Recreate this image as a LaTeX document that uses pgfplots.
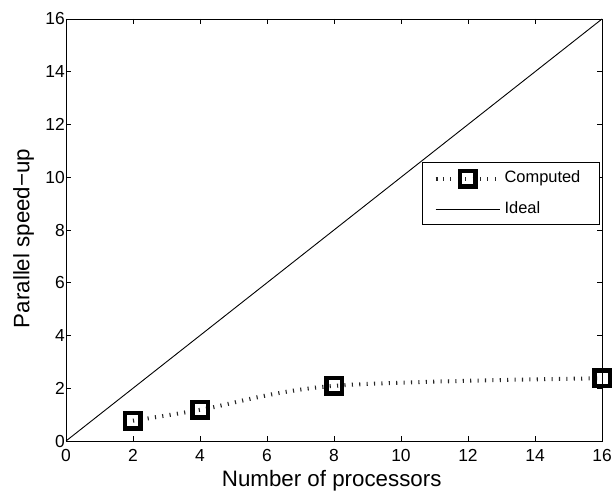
\documentclass[border=0pt]{standalone}
\usepackage{fontspec}
\setmainfont{Liberation Sans}
\usepackage{pgfplots}
\pgfplotsset{compat=1.18}
\begin{document}
\begin{tikzpicture}
\useasboundingbox (-66bp,-51bp) rectangle (550bp,441bp);
\begin{axis}[
  at={(0,0)}, anchor=south west,
  scale only axis, width=536bp, height=422bp,
  xmin=0, xmax=16, ymin=0, ymax=16,
  xtick={0,2,...,16}, ytick={0,2,...,16},
  tick align=inside, major tick length=5bp,
  axis line style={line width=0.9bp},
  every tick/.style={black, line width=0.9bp},
  tick label style={font=\fontsize{17.5}{17.5}\selectfont},
  /pgf/number format/assume math mode=true,
  xticklabel style={yshift=-5bp},
  yticklabel style={xshift=2.4bp},
  label style={font=\fontsize{22.4}{22.4}\selectfont},
  xlabel={Number of processors},
  ylabel={Parallel speed−up},
  xlabel style={at={(axis description cs:0.4957,-0.109)}, anchor=base},
  ylabel style={at={(axis description cs:-0.0685,0.48)}, anchor=base},
  legend cell align=left,
  legend image code/.code={%
    \draw[mark repeat=2, mark phase=2, #1]
      plot coordinates {(0bp,0bp) (32bp,0bp) (64bp,0bp)};},
  legend style={
    draw=black, line width=0.9bp,
    at={(axis cs:10.63,10.56)}, anchor=north west,
    inner xsep=11bp, inner ysep=6bp, row sep=11bp,
    font=\fontsize{16.5}{16.5}\selectfont,
    nodes={text height=12bp, text depth=3.5bp},
    /tikz/every odd column/.append style={column sep=1bp},
    /tikz/every even column/.append style={text width=82bp},
  },
]
% a wide line with very short dashes gives small strokes across the curve
\addplot[black!85, line width=4bp, line cap=butt,
  dash pattern=on 1.1bp off 6.3bp,
  smooth, tension=0.55,
  mark=square, mark size=7.75bp,
  mark options={draw=black, solid, line width=4.5bp, fill=none}]
  coordinates {(2,0.77) (4,1.18) (8,2.09) (16,2.38)};
\addlegendentry{Computed}
\addplot[black, line width=0.9bp] coordinates {(0,0) (16,16)};
\addlegendentry{Ideal}
\end{axis}
\end{tikzpicture}
\end{document}
